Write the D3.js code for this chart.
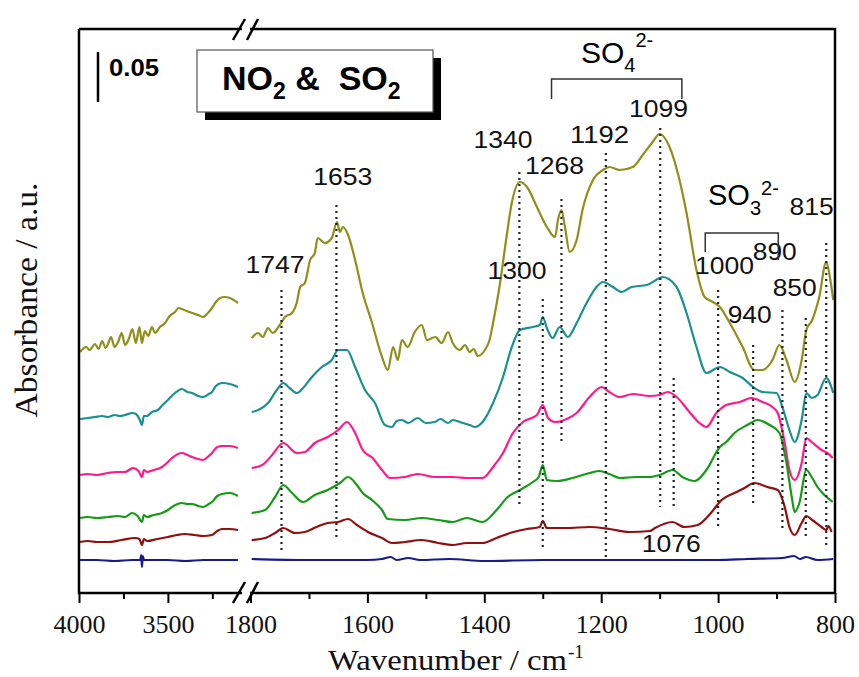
<!DOCTYPE html>
<html lang="en">
<head>
<meta charset="UTF-8">
<script src="https://cdnjs.cloudflare.com/ajax/libs/d3/7.8.5/d3.min.js"></script>
<title>IR spectra NO2 & SO2</title>
<style>
  body { margin: 0; background: #fff; }
  svg { display: block; }
  .serif, .serif text { font-family: "Liberation Serif", "Times New Roman", serif; }
  .sans { font-family: "Liberation Sans", Arial, sans-serif; }
</style>
</head>
<body>
<div id="chart"></div>
<script>
// spectra, [wavenumber, absorbance] (already offset for stacking)
var olive = [[3994,.241],[3960,.246],[3940,.243],[3910,.249],[3890,.244],[3870,.252],[3850,.245],[3837,.249],[3820,.256],[3800,.246],[3780,.251],[3760,.260],[3741,.248],[3720,.254],[3700,.264],[3680,.250],[3660,.266],[3646,.250],[3630,.262],[3610,.257],[3590,.266],[3572,.260],[3545,.266],[3516,.270],[3490,.277],[3460,.281],[3440,.285],[3421,.284],[3395,.282],[3364,.280],[3330,.278],[3302,.276],[3280,.279],[3252,.285],[3230,.291],[3207,.295],[3180,.296],[3151,.295],[3106,.290],
  [1798,.255],[1787,.260],[1779,.256],[1770,.265],[1762,.260],[1750,.268],[1741,.276],[1729,.280],[1721,.290],[1715,.306],[1707,.310],[1698,.333],[1690,.340],[1685,.355],[1673,.350],[1661,.355],[1652,.371],[1647,.361],[1642,.366],[1633,.358],[1621,.333],[1608,.300],[1592,.270],[1575,.236],[1565,.223],[1556,.246],[1548,.233],[1541,.253],[1531,.246],[1519,.261],[1507,.268],[1498,.253],[1484,.256],[1473,.250],[1462,.261],[1454,.250],[1442,.243],[1433,.248],[1425,.241],[1418,.244],[1411,.237],[1399,.243],[1391,.253],[1385,.270],[1373,.310],[1362,.356],[1353,.390],[1339,.411],[1327,.406],[1310,.386],[1293,.366],[1279,.356],[1274,.373],[1268,.383],[1262,.366],[1254,.341],[1242,.353],[1232,.383],[1214,.413],[1197,.423],[1186,.426],[1168,.423],[1146,.426],[1129,.438],[1112,.451],[1100,.459],[1083,.446],[1066,.413],[1054,.380],[1037,.323],[1023,.296],[1009,.291],[997,.286],[980,.270],[958,.246],[938,.223],[924,.223],[907,.233],[895,.248],[883,.233],[869,.211],[857,.233],[849,.263],[839,.273],[827,.296],[815,.331],[810,.320],[803,.293]];

var teal = [[3994,.174],[3950,.175],[3910,.176],[3870,.177],[3837,.176],[3800,.178],[3770,.177],[3741,.178],[3700,.180],[3680,.179],[3660,.174],[3646,.168],[3635,.177],[3617,.177],[3590,.181],[3556,.183],[3530,.188],[3500,.193],[3460,.200],[3421,.204],[3390,.201],[3364,.200],[3330,.197],[3302,.196],[3270,.199],[3252,.201],[3230,.207],[3196,.210],[3151,.209],[3106,.206],
  [1798,.181],[1787,.183],[1770,.190],[1755,.203],[1744,.210],[1733,.205],[1721,.200],[1710,.205],[1695,.216],[1678,.226],[1661,.233],[1650,.243],[1635,.243],[1621,.226],[1604,.203],[1587,.190],[1570,.168],[1558,.166],[1550,.172],[1541,.173],[1530,.170],[1514,.175],[1500,.170],[1485,.171],[1475,.174],[1462,.170],[1454,.173],[1437,.170],[1425,.168],[1416,.166],[1403,.171],[1385,.190],[1368,.216],[1353,.246],[1339,.263],[1317,.266],[1305,.268],[1300,.276],[1293,.265],[1283,.255],[1271,.266],[1257,.256],[1242,.270],[1225,.290],[1208,.306],[1197,.311],[1180,.306],[1165,.301],[1148,.306],[1122,.308],[1100,.315],[1095,.316],[1071,.306],[1054,.280],[1037,.246],[1020,.220],[997,.226],[980,.221],[958,.215],[938,.205],[924,.201],[900,.200],[890,.186],[878,.163],[869,.151],[857,.173],[849,.200],[840,.195],[830,.198],[815,.215],[803,.200]];

var pink = [[3994,.118],[3950,.119],[3900,.118],[3837,.120],[3790,.121],[3741,.121],[3696,.125],[3665,.122],[3646,.116],[3635,.123],[3617,.121],[3580,.123],[3533,.126],[3500,.131],[3477,.135],[3421,.140],[3390,.138],[3364,.136],[3330,.134],[3302,.133],[3270,.137],[3252,.140],[3222,.146],[3196,.147],[3151,.147],[3106,.145],
  [1798,.125],[1780,.128],[1763,.138],[1744,.150],[1721,.140],[1707,.141],[1690,.150],[1668,.156],[1650,.163],[1635,.171],[1621,.160],[1608,.143],[1591,.135],[1575,.123],[1561,.115],[1536,.116],[1514,.119],[1485,.116],[1454,.116],[1430,.115],[1403,.115],[1385,.126],[1368,.140],[1351,.160],[1334,.171],[1310,.178],[1300,.188],[1291,.175],[1279,.171],[1259,.174],[1242,.180],[1220,.196],[1199,.206],[1186,.201],[1168,.196],[1146,.199],[1117,.197],[1100,.198],[1086,.201],[1071,.196],[1049,.181],[1032,.170],[1020,.166],[1003,.180],[986,.188],[963,.191],[943,.195],[924,.191],[907,.186],[898,.180],[886,.150],[878,.123],[869,.113],[857,.130],[849,.155],[840,.151],[823,.143],[813,.140],[804,.135]];

var green = [[3994,.075],[3950,.076],[3900,.075],[3837,.076],[3780,.077],[3741,.076],[3702,.080],[3670,.077],[3646,.071],[3635,.078],[3617,.076],[3580,.078],[3533,.080],[3500,.083],[3477,.086],[3421,.090],[3390,.089],[3364,.089],[3330,.087],[3302,.086],[3270,.089],[3252,.091],[3222,.097],[3196,.099],[3151,.100],[3106,.097],
  [1798,.080],[1775,.083],[1758,.096],[1744,.108],[1729,.100],[1710,.091],[1690,.098],[1668,.103],[1647,.110],[1633,.116],[1618,.108],[1608,.100],[1592,.093],[1575,.083],[1565,.074],[1536,.073],[1507,.075],[1479,.073],[1454,.071],[1430,.075],[1403,.071],[1379,.083],[1360,.096],[1339,.103],[1317,.111],[1307,.116],[1300,.128],[1293,.113],[1276,.112],[1249,.115],[1220,.120],[1203,.122],[1186,.119],[1168,.115],[1140,.116],[1117,.116],[1100,.118],[1078,.123],[1061,.116],[1040,.112],[1020,.123],[997,.146],[986,.151],[972,.160],[950,.168],[932,.173],[912,.168],[895,.160],[883,.130],[874,.096],[869,.081],[861,.090],[849,.123],[840,.116],[830,.106],[818,.098],[804,.091]];

var darkred = [[3994,.051],[3950,.052],[3900,.051],[3837,.051],[3760,.053],[3685,.055],[3660,.054],[3646,.048],[3635,.054],[3617,.052],[3560,.054],[3500,.056],[3450,.058],[3404,.059],[3350,.058],[3302,.057],[3252,.058],[3222,.062],[3196,.064],[3151,.064],[3106,.063],
  [1798,.053],[1775,.055],[1758,.060],[1744,.065],[1724,.060],[1707,.061],[1687,.066],[1668,.070],[1650,.071],[1633,.074],[1618,.068],[1599,.061],[1575,.055],[1558,.050],[1536,.051],[1507,.053],[1479,.050],[1454,.048],[1430,.050],[1403,.050],[1379,.055],[1356,.060],[1327,.064],[1305,.066],[1300,.072],[1293,.065],[1259,.065],[1220,.066],[1186,.064],[1151,.061],[1117,.062],[1108,.065],[1078,.071],[1058,.066],[1035,.068],[1011,.081],[994,.093],[972,.100],[955,.105],[938,.110],[916,.106],[898,.103],[886,.086],[878,.066],[869,.058],[857,.070],[849,.077],[839,.073],[823,.066],[815,.063],[811,.067],[806,.061]];

var navy = [[3994,.033],[3900,.033],[3800,.032],[3700,.033],[3655,.033],[3650,.038],[3646,.026],[3641,.037],[3635,.033],[3500,.033],[3400,.032],[3300,.033],[3200,.033],[3106,.033],
  [1798,.034],[1700,.033],[1600,.033],[1575,.034],[1560,.036],[1550,.033],[1530,.035],[1510,.033],[1460,.034],[1400,.032],[1300,.033],[1200,.033],[1100,.033],[1000,.033],[950,.034],[890,.035],[870,.037],[860,.034],[850,.036],[830,.033],[803,.034]];

var spectra = [olive, teal, pink, green, darkred, navy];
var colors = ["#8f8f1c", "#1a9090", "#ff1a8c", "#159a15", "#8f1010", "#1a1a8c"];

// assigned bands: wavenumber, dotted line top/bottom (a.u.), label position
var peaks = [1747, 1653, 1340, 1300, 1268, 1192, 1099, 1076, 1000, 940, 890, 850, 815];
var peakTop = [.303, .388, .421, .294, .394, .440, .465, .215, .303, .248, .283, .275, .350];
var peakBottom = [.041, .056, .086, .043, .148, .036, .086, .086, .066, .086, .065, .056, .046];
var labelW = [1758, 1642, 1368, 1344, 1280, 1203, 1102, 1080, 989, 946, 903, 869, 840];
var labelY = [.320, .408, .445, .314, .419, .450, .476, .041, .319, .270, .333, .297, .378];

var highTicks = [4000, 3500], highMinor = [3750, 3250];
var lowTicks = [1800, 1600, 1400, 1200, 1000, 800], lowMinor = [1700, 1500, 1300, 1100, 900];

var W = 859, H = 677;
var svg = d3.select("#chart").append("svg").attr("width", W).attr("height", H);

var xHigh = d3.scaleLinear().domain([4000, 3100]).range([79, 239]);
var xLow = d3.scaleLinear().domain([1800, 800]).range([250.5, 835]);
var y = d3.scaleLinear().domain([0, 0.564]).range([593, 29]);
function xOf(w) { return w > 2500 ? xHigh(w) : xLow(w); }

// spectra
var line = d3.line().x(d => xOf(d[0])).y(d => y(d[1])).curve(d3.curveMonotoneX);
spectra.forEach(function (s, i) {
  [s.filter(d => d[0] > 2500), s.filter(d => d[0] <= 2500)].forEach(function (part) {
    svg.append("path").datum(part)
      .attr("d", line)
      .attr("fill", "none")
      .attr("stroke", colors[i])
      .attr("stroke-width", 2.2)
      .attr("stroke-linejoin", "round");
  });
});

// dotted band lines + labels
peaks.forEach(function (p, i) {
  svg.append("line")
    .attr("x1", xLow(p)).attr("x2", xLow(p))
    .attr("y1", y(peakTop[i])).attr("y2", y(peakBottom[i]))
    .attr("stroke", "#222").attr("stroke-width", 2.2)
    .attr("stroke-dasharray", "2,4");
  svg.append("text").attr("class", "sans")
    .attr("x", xLow(labelW[i])).attr("y", y(labelY[i]))
    .attr("text-anchor", "middle")
    .attr("font-size", 24)
    .attr("textLength", String(p).length === 4 ? 59 : 44)
    .attr("lengthAdjust", "spacingAndGlyphs")
    .attr("fill", "#111")
    .text(p);
});

// axes
var fmt = d3.format("d");
function bottomAxis(scale, major, minor) {
  var g = svg.append("g").attr("class", "serif").attr("transform", "translate(0,593)");
  g.call(d3.axisBottom(scale).tickValues(major).tickFormat(fmt).tickSize(10).tickPadding(12));
  var gm = svg.append("g").attr("transform", "translate(0,593)");
  gm.call(d3.axisBottom(scale).tickValues(minor).tickSize(6).tickFormat(""));
  g.attr("font-family", null).attr("font-size", null);
}
bottomAxis(xHigh, highTicks, highMinor);
bottomAxis(xLow, lowTicks, lowMinor);
svg.selectAll(".domain").remove();
svg.selectAll(".tick line").attr("stroke", "#000").attr("stroke-width", 2);
svg.selectAll(".tick text").attr("font-size", 26).attr("fill", "#111");

// frame with break
var frame = svg.append("g").attr("stroke", "#000").attr("stroke-width", 2.5).attr("fill", "none");
frame.append("path").attr("d", "M79,29H242M250,29H835V593H250M242,593H79V29");
[[233, 603, 245, 582], [247, 603, 258, 582], [233, 40, 245, 19], [247, 40, 258, 19]].forEach(function (s) {
  svg.append("line").attr("x1", s[0]).attr("y1", s[1]).attr("x2", s[2]).attr("y2", s[3])
    .attr("stroke", "#000").attr("stroke-width", 2.5);
});

// scale bar
svg.append("line").attr("x1", 98).attr("x2", 98).attr("y1", y(.541)).attr("y2", y(.491))
  .attr("stroke", "#000").attr("stroke-width", 2.5);
svg.append("text").attr("class", "sans").attr("x", 109).attr("y", 76)
  .attr("font-size", 23).attr("font-weight", "bold")
  .attr("textLength", 50).attr("lengthAdjust", "spacingAndGlyphs").text("0.05");

// title box
svg.append("rect").attr("x", 205).attr("y", 58).attr("width", 236).attr("height", 62).attr("fill", "#000");
svg.append("rect").attr("x", 197).attr("y", 50).attr("width", 236).attr("height", 62)
  .attr("fill", "#fff").attr("stroke", "#555").attr("stroke-width", 1.2);
var t = svg.append("text").attr("class", "sans").attr("x", 222).attr("y", 90)
  .attr("font-size", 34).attr("font-weight", "bold").style("white-space", "pre");
t.append("tspan").text("NO");
t.append("tspan").attr("font-size", 23).attr("dy", 9).text("2");
t.append("tspan").attr("dy", -9).text(" &  SO");
t.append("tspan").attr("font-size", 23).attr("dy", 9).text("2");

// SO4 2- bracket
var so4 = svg.append("text").attr("class", "sans").attr("x", 581).attr("y", 63).attr("font-size", 30);
so4.append("tspan").text("SO");
so4.append("tspan").attr("font-size", 20).attr("dy", 9).text("4");
so4.append("tspan").attr("font-size", 20).attr("dy", -25).text("2-");
svg.append("path").attr("fill", "none").attr("stroke", "#333").attr("stroke-width", 1.5)
  .attr("d", "M" + xLow(1285) + "," + y(.494) + "V" + y(.514) + "H" + xLow(1062) + "V" + y(.494));

// SO3 2- bracket
var so3 = svg.append("text").attr("class", "sans").attr("x", 708).attr("y", 205).attr("font-size", 29);
so3.append("tspan").text("SO");
so3.append("tspan").attr("font-size", 20).attr("dy", 10).text("3");
so3.append("tspan").attr("font-size", 20).attr("dy", -20).text("2-");
svg.append("path").attr("fill", "none").attr("stroke", "#333").attr("stroke-width", 1.5)
  .attr("d", "M" + xLow(1022) + "," + y(.341) + "V" + y(.360) + "H" + xLow(897) + "V" + y(.333));

// axis titles
svg.append("text").attr("class", "serif").attr("x", 328).attr("y", 670)
  .attr("font-size", 29).attr("fill", "#111")
  .attr("textLength", 239).attr("lengthAdjust", "spacingAndGlyphs")
  .text("Wavenumber / cm");
svg.append("text").attr("class", "serif").attr("x", 568).attr("y", 658)
  .attr("font-size", 19).attr("fill", "#111").text("-1");
svg.append("text").attr("class", "serif")
  .attr("transform", "translate(37,300) rotate(-90)")
  .attr("text-anchor", "middle").attr("font-size", 31).attr("fill", "#111")
  .attr("textLength", 235).attr("lengthAdjust", "spacingAndGlyphs")
  .text("Absorbance / a.u.");
</script>
</body>
</html>
